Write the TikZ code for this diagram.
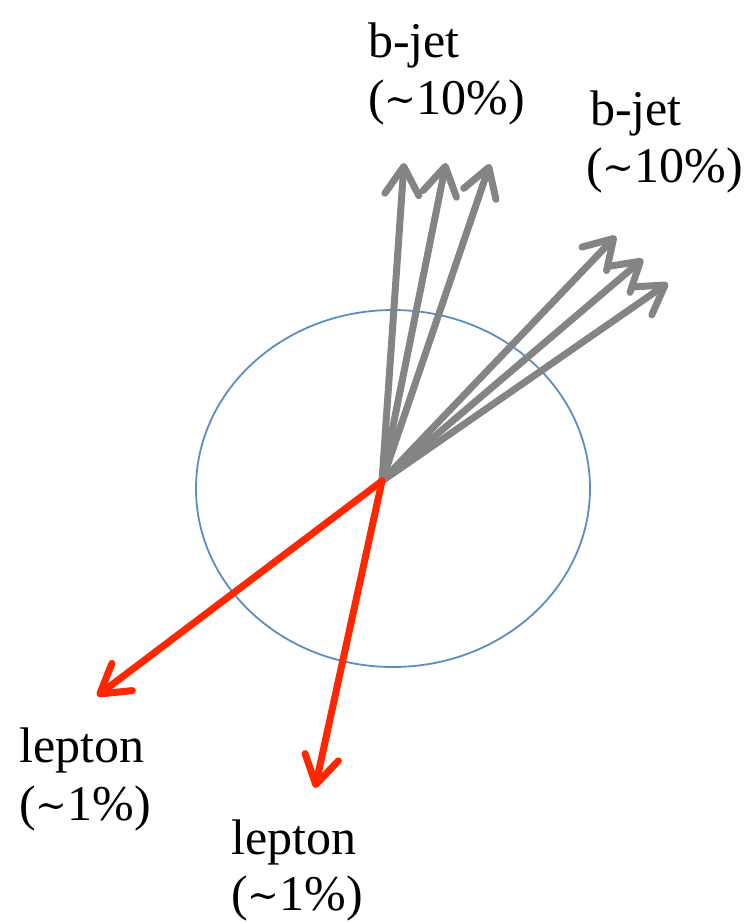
\documentclass[tikz,border=0pt]{standalone}
\usepackage{fontspec}
\setmainfont{Liberation Serif}
\newfontfamily\symfam{DejaVu Serif}
\newcommand{\tld}{\raisebox{1.5pt}{\fontsize{38}{38}\symfam ∼}}
\usetikzlibrary{arrows.meta,shapes.geometric}
\definecolor{jetgray}{RGB}{132,132,132}
\definecolor{lepred}{RGB}{255,38,0}
\definecolor{ringblue}{RGB}{92,140,196}
\tikzset{
  jet/.style={draw=jetgray, line width=7pt, line cap=round,
    -{Straight Barb[length=28pt,width=34pt,round]}},
  lep/.style={draw=lepred, line width=7pt, line cap=round,
    -{Straight Barb[length=28pt,width=34pt,round]}},
  lbl/.style={anchor=base west, inner sep=0pt, font=\fontsize{50}{58}\selectfont},
}
\begin{document}
\begin{tikzpicture}[x=1pt,y=-1pt]
\useasboundingbox (0,0) rectangle (746,923);
\node[draw=ringblue, line width=1.8pt, ellipse, minimum width=394pt, minimum height=357pt, inner sep=0pt] (ring) at (393,488.5) {};
\coordinate (O) at (382,481);
\coordinate (j1) at (404,163);
\coordinate (j2) at (446,163);
\coordinate (j3) at (490,164);
\coordinate (j4) at (616,236);
\coordinate (j5) at (643,259);
\coordinate (j6) at (668,283);
\coordinate (l1) at (97,696);
\coordinate (l2) at (315,788);
\foreach \t in {j1,j2,j3,j4,j5,j6} \draw[jet] (O) -- (\t);
\foreach \t in {l1,l2} \draw[lep] (O) -- (\t);
\node[lbl] (bj1) at (368,58) {b-jet};
\node[lbl] (bp1) at (368,114) {(\tld10\%)};
\node[lbl] (bj2) at (590,126) {b-jet};
\node[lbl] (bp2) at (586,182) {(\tld10\%)};
\node[lbl] (lp1) at (19,762) {lepton};
\node[lbl] (lq1) at (19,820) {(\tld1\%)};
\node[lbl] (lp2) at (231,854) {lepton};
\node[lbl] (lq2) at (231,910) {(\tld1\%)};
\end{tikzpicture}
\end{document}
